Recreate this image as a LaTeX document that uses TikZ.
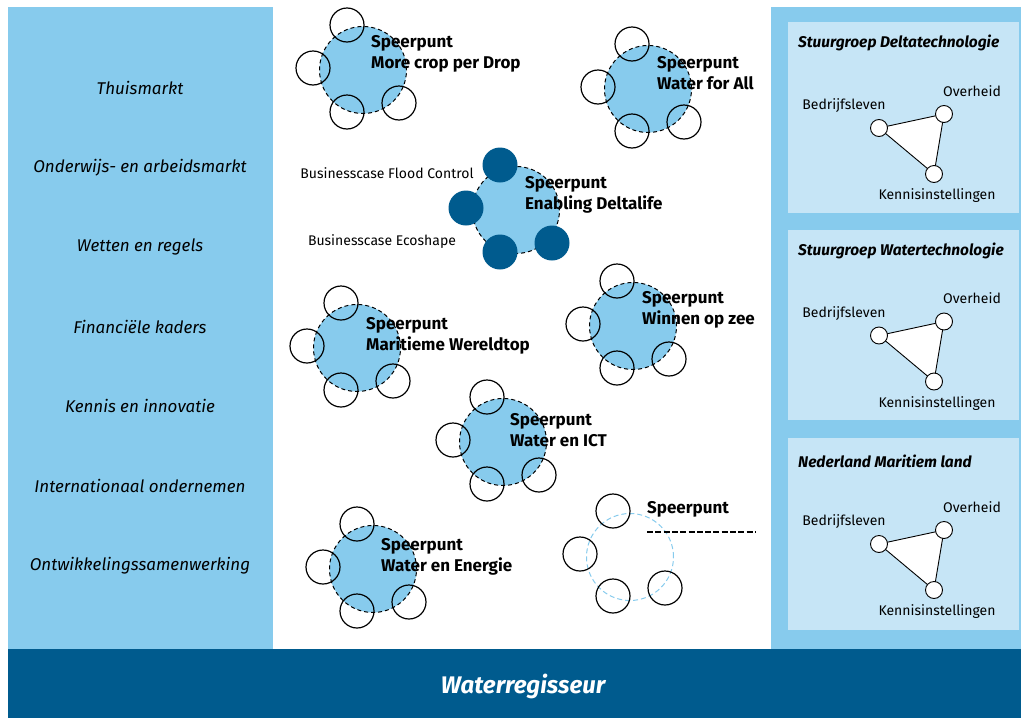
\documentclass[tikz,border=0pt]{standalone}
\usepackage{fontspec}
\setmainfont{Fira Sans}
\usetikzlibrary{positioning}
\definecolor{lichtblauw}{HTML}{87CBED}
\definecolor{boxblauw}{HTML}{C6E5F6}
\definecolor{donkerblauw}{HTML}{005B8E}
\tikzset{
	speer/.style={draw, circle, dash pattern=on 4pt off 3pt, inner sep=0pt, minimum size=87pt, fill=lichtblauw, line width=1pt},
	speerleeg/.style={draw=lichtblauw, circle, dash pattern=on 5pt off 3pt, inner sep=0pt, minimum size=87pt, line width=1pt},
	sat/.style={draw, circle, inner sep=0pt, minimum size=34pt, line width=1.2pt},
	satdonker/.style={circle, inner sep=0pt, minimum size=35pt, fill=donkerblauw},
	speertekst/.style={anchor=west, align=left, inner sep=0pt, font=\fontsize{17}{21}\selectfont\bfseries},
	thema/.style={font=\fontsize{17}{20}\selectfont\itshape},
	partner/.style={draw, circle, inner sep=0pt, minimum size=17pt, fill=white, line width=0.9pt},
	partnertekst/.style={font=\fontsize{14}{16}\selectfont},
	boxtitel/.style={anchor=west, inner sep=0pt, font=\fontsize{15.5}{18}\selectfont\bfseries\itshape},
	casetekst/.style={font=\fontsize{14}{16}\selectfont},
}

\begin{document}
\begin{tikzpicture}[x=1pt, y=1pt, node distance=79.6pt]
				\useasboundingbox (0,0) rectangle (1021,-718);
				
				% panelen
				\fill[lichtblauw] (8,-7) rectangle (273,-649);
				\fill[lichtblauw] (771,-7) rectangle (1021,-649);
				\fill[donkerblauw] (8,-649) rectangle (1021,-718);
				\node (regisseur) [text=white, font=\fontsize{24}{28}\selectfont\bfseries\itshape] at (523,-686) {Waterregisseur};
				
				% thema's links
				\node (thuis) [thema] at (140,-88) {Thuismarkt};
				\node (onderwijs) [thema, below of=thuis] {Onderwijs- en arbeidsmarkt};
				\node (wetten) [thema, below of=onderwijs] {Wetten en regels};
				\node (financieel) [thema, below of=wetten] {Financiële kaders};
				\node (kennis) [thema, below of=financieel] {Kennis en innovatie};
				\node (internationaal) [thema, below of=kennis] {Internationaal ondernemen};
				\node (ontwikkeling) [thema, below of=internationaal] {Ontwikkelingssamenwerking};
				
				% speerpunten
				\node (crop) [speer] at (363,-70) {};
				\node (all) [speer] at (648,-89) {};
				\node (delta) [speer] at (516,-210) {};
				\node (zee) [speer] at (633,-326) {};
				\node (maritiem) [speer] at (357,-348) {};
				\node (ict) [speer] at (503,-442) {};
				\node (energie) [speer] at (373,-569) {};
				\node (leeg) [speerleeg] at (630,-557) {};
				
				\node (cropt) [speertekst] at ([shift={(8,16.5)}]crop) {Speerpunt\\More crop per Drop};
				\node (allt) [speertekst] at ([shift={(9,16)}]all) {Speerpunt\\Water for All};
				\node (deltat) [speertekst] at ([shift={(9,15)}]delta) {Speerpunt\\Enabling Deltalife};
				\node (zeet) [speertekst] at ([shift={(9,16)}]zee) {Speerpunt\\Winnen op zee};
				\node (maritiemt) [speertekst] at ([shift={(9,12)}]maritiem) {Speerpunt\\Maritieme Wereldtop};
				\node (ictt) [speertekst] at ([shift={(7,12)}]ict) {Speerpunt\\Water en ICT};
				\node (energiet) [speertekst] at ([shift={(8,12.5)}]energie) {Speerpunt\\Water en Energie};
				\node (leegt) [speertekst] at ([shift={(17,48)}]leeg) {Speerpunt};
				\draw[dash pattern=on 6pt off 2.3pt, line width=1.4pt] ([yshift=-23pt]leegt.west) -- ++(108,0);
				
				% satellieten
				\node (crop1) [sat] at ([shift={(-16,45)}]crop) {};
				\node (crop2) [sat] at ([shift={(-50,2)}]crop) {};
				\node (crop3) [sat] at ([shift={(-16,-42)}]crop) {};
				\node (crop4) [sat] at ([shift={(36,-33)}]crop) {};
				
				\node (all1) [sat] at ([shift={(-16,45)}]all) {};
				\node (all2) [sat] at ([shift={(-50,2)}]all) {};
				\node (all3) [sat] at ([shift={(-16,-42)}]all) {};
				\node (all4) [sat] at ([shift={(36,-33)}]all) {};
				
				\node (delta1) [satdonker] at ([shift={(-16,45)}]delta) {};
				\node (delta2) [satdonker] at ([shift={(-50,2)}]delta) {};
				\node (delta3) [satdonker] at ([shift={(-16,-42)}]delta) {};
				\node (delta4) [satdonker] at ([shift={(36,-33)}]delta) {};
				
				\node (zee1) [sat] at ([shift={(-16,45)}]zee) {};
				\node (zee2) [sat] at ([shift={(-50,2)}]zee) {};
				\node (zee3) [sat] at ([shift={(-16,-42)}]zee) {};
				\node (zee4) [sat] at ([shift={(36,-33)}]zee) {};
				
				\node (maritiem1) [sat] at ([shift={(-16,45)}]maritiem) {};
				\node (maritiem2) [sat] at ([shift={(-50,2)}]maritiem) {};
				\node (maritiem3) [sat] at ([shift={(-16,-42)}]maritiem) {};
				\node (maritiem4) [sat] at ([shift={(36,-33)}]maritiem) {};
				
				\node (ict1) [sat] at ([shift={(-16,45)}]ict) {};
				\node (ict2) [sat] at ([shift={(-50,2)}]ict) {};
				\node (ict3) [sat] at ([shift={(-16,-42)}]ict) {};
				\node (ict4) [sat] at ([shift={(36,-33)}]ict) {};
				
				\node (energie1) [sat] at ([shift={(-16,45)}]energie) {};
				\node (energie2) [sat] at ([shift={(-50,2)}]energie) {};
				\node (energie3) [sat] at ([shift={(-16,-42)}]energie) {};
				\node (energie4) [sat] at ([shift={(36,-33)}]energie) {};
				
				\node (leeg1) [sat] at ([shift={(-17,46)}]leeg) {};
				\node (leeg2) [sat] at ([shift={(-50,3)}]leeg) {};
				\node (leeg3) [sat] at ([shift={(-17,-39)}]leeg) {};
				\node (leeg4) [sat] at ([shift={(35,-31)}]leeg) {};
				
				% businesscases
				\node (flood) [casetekst] at (387,-173) {Businesscase Flood Control};
				\node (ecoshape) [casetekst] at (382,-242) {Businesscase Ecoshape};
				
				% stuurgroepen rechts
				\fill[boxblauw] (788,-22) rectangle (1019,-213);
				\fill[boxblauw] (788,-230) rectangle (1019,-420);
				\fill[boxblauw] (788,-438) rectangle (1019,-630);
				
				\node (delta-sg) [boxtitel] at (798,-43) {Stuurgroep Deltatechnologie};
				\coordinate (b1) at (879,-128);
				\coordinate (o1) at (944,-114);
				\coordinate (k1) at (934,-174);
				\draw[fill=white, line width=0.9pt] (b1) -- (o1) -- (k1) -- cycle;
				\node (b1c) [partner] at (b1) {};
				\node (o1c) [partner] at (o1) {};
				\node (k1c) [partner] at (k1) {};
				\node (b1t) [partnertekst] at (844,-106) {Bedrijfsleven};
				\node (o1t) [partnertekst] at (972,-91) {Overheid};
				\node (k1t) [partnertekst] at (937,-196) {Kennisinstellingen};
				
				\node (water-sg) [boxtitel] at (798,-251) {Stuurgroep Watertechnologie};
				\coordinate (b2) at (879,-335.5);
				\coordinate (o2) at (944,-321.5);
				\coordinate (k2) at (934,-381.5);
				\draw[fill=white, line width=0.9pt] (b2) -- (o2) -- (k2) -- cycle;
				\node (b2c) [partner] at (b2) {};
				\node (o2c) [partner] at (o2) {};
				\node (k2c) [partner] at (k2) {};
				\node (b2t) [partnertekst] at (844,-313.5) {Bedrijfsleven};
				\node (o2t) [partnertekst] at (972,-298.5) {Overheid};
				\node (k2t) [partnertekst] at (937,-403.5) {Kennisinstellingen};
				
				\node (maritiem-sg) [boxtitel] at (798,-461) {Nederland Maritiem land};
				\coordinate (b3) at (879,-544);
				\coordinate (o3) at (944,-530);
				\coordinate (k3) at (934,-590);
				\draw[fill=white, line width=0.9pt] (b3) -- (o3) -- (k3) -- cycle;
				\node (b3c) [partner] at (b3) {};
				\node (o3c) [partner] at (o3) {};
				\node (k3c) [partner] at (k3) {};
				\node (b3t) [partnertekst] at (844,-522) {Bedrijfsleven};
				\node (o3t) [partnertekst] at (972,-507) {Overheid};
				\node (k3t) [partnertekst] at (937,-612) {Kennisinstellingen};
			\end{tikzpicture}
\end{document}
